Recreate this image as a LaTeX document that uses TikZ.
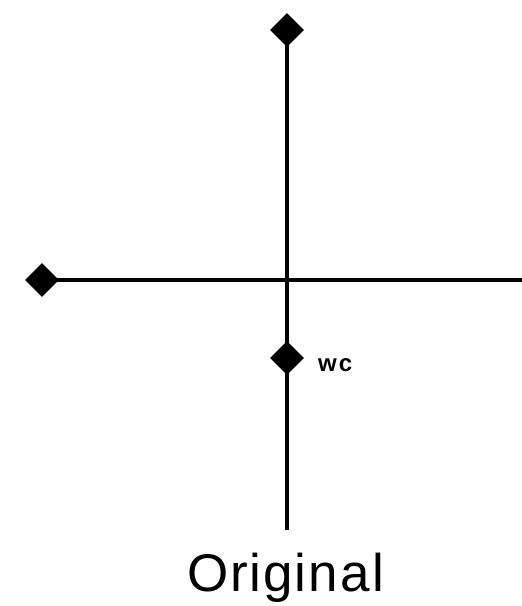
\documentclass[tikz,border=0pt]{standalone}
\usepackage{fontspec}
\setmainfont{Liberation Sans}
\usetikzlibrary{shapes.geometric}
\tikzset{
  axis/.style={line width=4pt,draw=black},
  pin/.style={diamond,fill=black,inner sep=0pt,minimum width=34pt,minimum height=34pt},
  tag/.style={font=\fontsize{24}{24}\selectfont\bfseries,anchor=west,inner sep=0pt}
}
\begin{document}
\begin{tikzpicture}[x=1pt,y=-1pt]
  \useasboundingbox (0,0) rectangle (522,606);
  % axes ends
  \node[pin] (top) at (287,30) {};
  \node[pin] (left) at (42,280) {};
  \node[pin] (wc) at (287,358) {};
  \coordinate (bottom) at (287,530);
  \coordinate (right) at (522,280);
  \draw[axis] (top.center) -- (bottom);
  \draw[axis] (left.center) -- (right);
  \node[tag] (wclabel) at (318,365) {w\kern2pt c};
  \node[font=\fontsize{53}{53}\selectfont,inner sep=0pt] (title) at (286,578) {O\kern2pt r\kern1pt i\kern2pt g\kern2pt i\kern2pt n\kern2pt a\kern3pt l};
\end{tikzpicture}
\end{document}
